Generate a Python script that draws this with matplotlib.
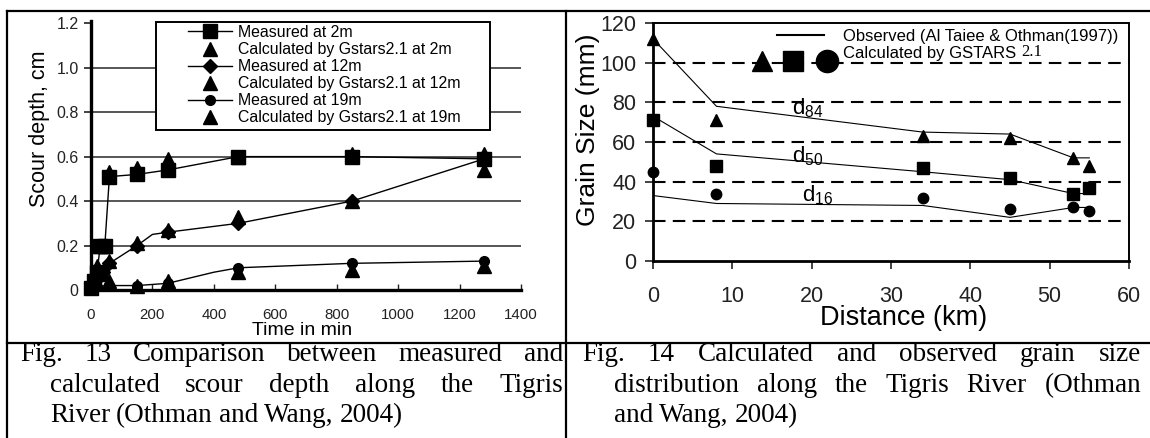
import numpy as np
import matplotlib
matplotlib.use("Agg")
import matplotlib.pyplot as plt
from matplotlib.lines import Line2D
from matplotlib.patches import Rectangle

plt.rcParams['font.family'] = ['Liberation Sans', 'DejaVu Sans']
plt.rcParams['mathtext.fontset'] = 'custom'
plt.rcParams['mathtext.rm'] = 'Liberation Sans'
plt.rcParams['mathtext.it'] = 'Liberation Sans:italic'

# ---- Fig. 13 : scour depth vs time ----
t_m2 = [0, 10, 20, 30, 45, 60, 150, 250, 480, 850, 1280]
d_m2 = [0.01, 0.04, 0.08, 0.20, 0.20, 0.51, 0.52, 0.54, 0.60, 0.60, 0.59]
t_c2 = [10, 30, 45, 60, 150, 250, 480, 850, 1280]
d_c2 = [0.06, 0.20, 0.20, 0.53, 0.55, 0.59, 0.60, 0.61, 0.61]

t_m12 = [0, 20, 40, 60, 150, 200, 250, 480, 850, 1280]
d_m12 = [0.01, 0.05, 0.08, 0.12, 0.20, 0.25, 0.26, 0.30, 0.40, 0.59]
mk_m12 = [0, 1, 2, 3, 4, 6, 7, 8, 9]
t_c12 = [20, 40, 60, 150, 250, 480, 850, 1280]
d_c12 = [0.11, 0.07, 0.13, 0.21, 0.27, 0.33, 0.40, 0.54]

t_m19 = [0, 60, 150, 250, 400, 480, 850, 1280]
d_m19 = [0.01, 0.02, 0.02, 0.03, 0.08, 0.10, 0.12, 0.13]
mk_m19 = [0, 1, 2, 3, 5, 6, 7]
t_c19 = [20, 60, 150, 250, 480, 850, 1280]
d_c19 = [0.03, 0.04, 0.02, 0.04, 0.08, 0.09, 0.11]

scour_grid = [0.2, 0.4, 0.6, 0.8, 1.0]

# ---- Fig. 14 : grain size vs distance ----
dist = [0, 8, 34, 45, 53, 55]
d84_obs = [112, 78, 65, 64, 52, 52]
d84_calc = [112, 71, 63, 62, 52, 48]
d50_obs = [73, 54, 45, 41, 34, 34]
d50_calc = [71, 48, 47, 42, 34, 37]
d16_obs = [33, 29, 28, 22, 27, 27]
d16_calc = [45, 34, 32, 26, 27, 25]

grain_grid = [20, 40, 60, 80, 100]

W, H = 1150, 438
fig = plt.figure(figsize=(W / 100, H / 100), dpi=100)


def fx(x):
    return x / W


def fy(y):
    return 1 - y / H


# table frame
frame = dict(color='black', lw=1.6, transform=fig.transFigure, clip_on=False)
fig.add_artist(Line2D([fx(7), fx(1150)], [fy(11), fy(11)], **frame))
fig.add_artist(Line2D([fx(7), fx(1150)], [fy(343), fy(343)], **frame))
fig.add_artist(Line2D([fx(7), fx(7)], [fy(11), fy(438)], **frame))
fig.add_artist(Line2D([fx(566), fx(566)], [fy(11), fy(438)], **frame))

# ---------------- left chart ----------------
ax1 = fig.add_axes([fx(91), fy(290), fx(521 - 91), (290 - 21) / H])
ax1.set_xlim(0, 1400)
ax1.set_ylim(0, 1.21)
for s in ['top', 'right']:
    ax1.spines[s].set_visible(False)
for s in ['left', 'bottom']:
    ax1.spines[s].set_linewidth(2.4)
ax1.hlines(scour_grid, 0, 1400, color='#3a3a3a', lw=1.2, zorder=1)

ax1.set_xticks(np.arange(0, 1401, 200))
ax1.set_yticks([0, 0.2, 0.4, 0.6, 0.8, 1.0, 1.2])
ax1.set_yticklabels(['0', '0.2', '0.4', '0.6', '0.8', '1.0', '1.2'])
ax1.tick_params(axis='x', direction='in', length=4, width=1, pad=13,
                labelsize=10.8, colors='#222')
ax1.tick_params(axis='y', direction='out', length=5, width=1.2, pad=4,
                labelsize=11.5, colors='#222')

kw = dict(color='black', clip_on=False, zorder=3)
ax1.plot(t_m2, d_m2, '-s', lw=1, ms=9.5, **kw)
ax1.plot(t_c2, d_c2, '^', ms=9.5, **kw)
ax1.plot(t_m12, d_m12, '-D', lw=1, ms=7.5, markevery=mk_m12, **kw)
ax1.plot(t_c12, d_c12, '^', ms=9.5, **kw)
ax1.plot(t_m19, d_m19, '-o', lw=1, ms=7, markevery=mk_m19, **kw)
ax1.plot(t_c19, d_c19, '^', ms=9.5, **kw)

ax1.set_xlabel('Time in min', fontsize=14, labelpad=0)
ax1.xaxis.set_label_coords(0.49, -0.12)
ax1.set_ylabel('Scour depth, cm', fontsize=15.5)
ax1.yaxis.set_label_coords(-0.095, 0.6)

# legend box of the scour chart
ax1.add_patch(Rectangle((fx(156), fy(130)), fx(490 - 156), (130 - 22) / H,
                        transform=fig.transFigure, facecolor='white',
                        edgecolor='black', lw=1.4, zorder=4, clip_on=False))
handles = [
    Line2D([], [], color='black', lw=1, marker='s', ms=9.5),
    Line2D([], [], color='black', ls='none', marker='^', ms=9.5),
    Line2D([], [], color='black', lw=1, marker='D', ms=7.5),
    Line2D([], [], color='black', ls='none', marker='^', ms=9.5),
    Line2D([], [], color='black', lw=1, marker='o', ms=7),
    Line2D([], [], color='black', ls='none', marker='^', ms=9.5),
]
labels = ['Measured at 2m', 'Calculated by Gstars2.1 at 2m',
          'Measured at 12m', 'Calculated by Gstars2.1 at 12m',
          'Measured at 19m', 'Calculated by Gstars2.1 at 19m']
leg = ax1.legend(handles, labels, loc='upper left',
                 bbox_to_anchor=(fx(188), fy(25)), bbox_transform=fig.transFigure,
                 borderaxespad=0, frameon=False,
                 fontsize=11.4, handlelength=2.75, handletextpad=0.4,
                 labelspacing=0.13, borderpad=0)
leg.set_zorder(5)

# ---------------- right chart ----------------
ax2 = fig.add_axes([fx(653), fy(261), fx(1129 - 653), (261 - 23) / H])
ax2.set_xlim(0, 60)
ax2.set_ylim(0, 120)
ax2.spines['left'].set_linewidth(2)
ax2.spines['bottom'].set_linewidth(2)
ax2.spines['top'].set_linewidth(1.4)
ax2.spines['right'].set_linewidth(1.4)
ax2.hlines(grain_grid, 0, 60, color='black', lw=1.5, ls=(0, (6, 3.5)), zorder=1)

ax2.set_xticks(np.arange(0, 61, 10))
ax2.set_yticks(np.arange(0, 121, 20))
ax2.tick_params(axis='x', direction='out', length=6, width=1.2, pad=12,
                labelsize=15.5, colors='#222')
ax2.tick_params(axis='y', direction='out', length=6, width=1.2, pad=6,
                labelsize=15.5, colors='#222')

kw2 = dict(color='black', clip_on=False, zorder=3)
for obs in [d84_obs, d50_obs, d16_obs]:
    ax2.plot(dist, obs, '-', color='black', lw=0.8, zorder=2)
ax2.plot(dist, d84_calc, '^', ms=8.5, **kw2)
ax2.plot(dist, d50_calc, 's', ms=8, **kw2)
ax2.plot(dist, d16_calc, 'o', ms=7.5, **kw2)

ax2.text(17.5, 77, r'd$_{84}$', fontsize=16, va='center')
ax2.text(17.5, 53, r'd$_{50}$', fontsize=16, va='center')
ax2.text(18.8, 33, r'd$_{16}$', fontsize=16, va='center')

ax2.set_xlabel('Distance (km)', fontsize=19.5, labelpad=0)
ax2.xaxis.set_label_coords(0.527, -0.185)
ax2.set_ylabel('Grain Size (mm)', fontsize=19)
ax2.yaxis.set_label_coords(-0.112, 0.55)

# legend keys of the grain size chart
ta = ax2.transAxes
ax2.plot([0.26, 0.36], [0.95, 0.95], color='black', lw=1.5, transform=ta,
         clip_on=False)
for xm, m, s in [(0.23, '^', 15), (0.295, 's', 15), (0.366, 'o', 16)]:
    ax2.plot([xm], [0.84], m, color='black', ms=s, transform=ta, clip_on=False,
             zorder=4)
ax2.text(0.399, 0.945, 'Observed (Al Taiee & Othman(1997))', fontsize=12,
         va='center', transform=ta)
t_calc = ax2.text(0.399, 0.87, 'Calculated by GSTARS', fontsize=12,
                  va='center', transform=ta)

# ---------------- captions ----------------
renderer = fig.canvas.get_renderer()
bb = t_calc.get_window_extent(renderer)
fig.text((bb.x1 + 5) / W, (bb.y0 + 1) / H, '2.1', fontsize=12,
         family='Liberation Serif', va='bottom')


def caption_line(words, x0, x1, ybase, justify=True, size=19.5):
    texts = [fig.text(0, fy(ybase), w, fontsize=size, family='Liberation Serif',
                      va='baseline', color='black') for w in words]
    widths = [t.get_window_extent(renderer).width for t in texts]
    if justify and len(words) > 1:
        gap = (x1 - x0 - sum(widths)) / (len(words) - 1)
    else:
        gap = size * 0.22 * 100 / 72
    x = x0
    for t, w in zip(texts, widths):
        t.set_x(fx(x))
        x += w + gap


caption_line('Fig. 13 Comparison between measured and'.split(), 20, 563, 361)
caption_line('calculated scour depth along the Tigris'.split(), 50, 563, 392)
caption_line('River (Othman and Wang, 2004)'.split(), 50, 563, 422, justify=False)

caption_line('Fig. 14 Calculated and observed grain size'.split(), 582, 1141, 361)
caption_line('distribution along the Tigris River (Othman'.split(), 614, 1141, 392)
caption_line('and Wang, 2004)'.split(), 614, 1141, 422, justify=False)

fig.savefig('out.png', dpi=100)
